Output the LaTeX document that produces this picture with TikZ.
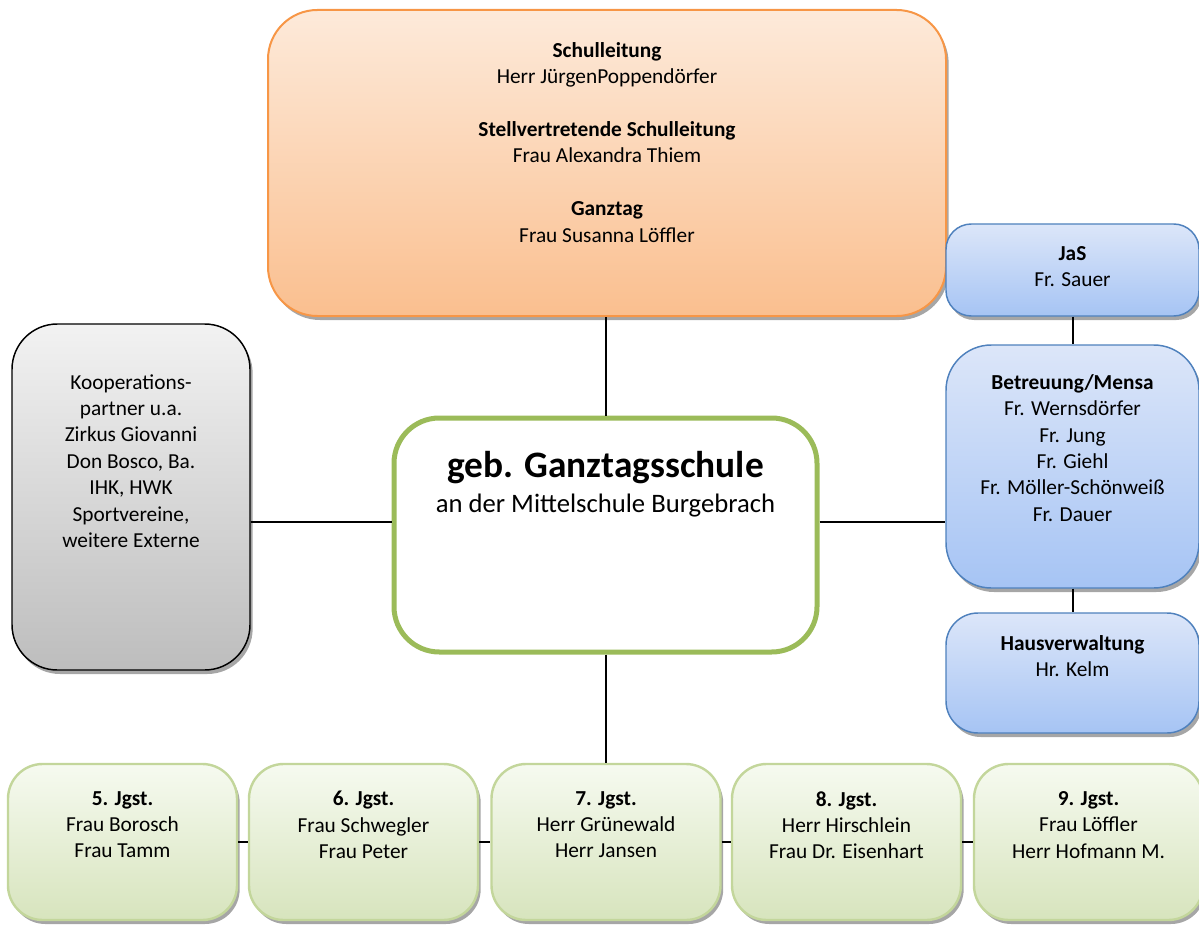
\documentclass[tikz,border=0pt]{standalone}
\usepackage{fontspec}
\setmainfont{Carlito}
\usetikzlibrary{shadows,calc}
\definecolor{orTop}{HTML}{FDEADA}
\definecolor{orBot}{HTML}{FABF8F}
\definecolor{orLine}{HTML}{F79646}
\definecolor{blTop}{HTML}{DCE6F9}
\definecolor{blBot}{HTML}{A6C4F4}
\definecolor{blLine}{HTML}{4F81BD}
\definecolor{grTop}{HTML}{F2F2F2}
\definecolor{grBot}{HTML}{BDBDBD}
\definecolor{gnTop}{HTML}{F6FAF0}
\definecolor{gnBot}{HTML}{D7E4BD}
\definecolor{gnLine}{HTML}{C3D69B}
\definecolor{gnMain}{HTML}{9BBB59}
\begin{document}
\begin{tikzpicture}[x=0.75pt,y=-0.75pt,
  shd/.style={drop shadow={shadow xshift=2pt,shadow yshift=-3pt,opacity=0.35,fill=black}},
  boxbase/.style={draw,rectangle,inner sep=0pt,shd},
  obox/.style={boxbase,rounded corners=37pt,draw=orLine,line width=1.5pt,top color=orTop,bottom color=orBot},
  bbox/.style={boxbase,rounded corners=#1,draw=blLine,line width=1.1pt,top color=blTop,bottom color=blBot},
  gbox/.style={boxbase,rounded corners=34pt,draw=black,line width=1.1pt,top color=grTop,bottom color=grBot},
  jbox/.style={boxbase,rounded corners=26pt,draw=gnLine,line width=1.8pt,top color=gnTop,bottom color=gnBot,
     minimum width=171.75pt,minimum height=117pt},
  mbox/.style={draw=gnMain,line width=3.75pt,rectangle,rounded corners=34pt,fill=white,inner sep=0pt},
  txt/.style={align=center,inner sep=0pt,anchor=north,font=\fontsize{16}{19.8}\selectfont},
  conn/.style={draw=black,line width=1.5pt}
]
\useasboundingbox (0,0) rectangle (1199,927);

% boxes
\node[obox,minimum width=508.5pt,minimum height=229.5pt] (lead) at (607,163) {};
\node[gbox,minimum width=178.5pt,minimum height=259.5pt] (koop) at (131,497) {};
\node[bbox=19pt,minimum width=189.75pt,minimum height=69pt] (jas) at (1072.5,270) {};
\node[bbox=34pt,minimum width=189.75pt,minimum height=182.25pt] (care) at (1072.5,466.5) {};
\node[bbox=24pt,minimum width=189.75pt,minimum height=90pt] (haus) at (1072.5,673) {};
\node[mbox,minimum width=317.25pt,minimum height=175.5pt] (main) at (605.5,535) {};
\node[jbox] (j5) at (122.5,842) {};
\node[jbox] (j6) at (363.5,842) {};
\node[jbox] (j7) at (606,842) {};
\node[jbox] (j8) at (846.5,842) {};
\node[jbox] (j9) at (1088.5,842) {};

% connectors
\coordinate (hy) at (0,522);
\draw[conn] (main.north |- lead.south) -- (main.north);
\draw[conn] (main.south) -- (main.south |- j7.north);
\draw[conn] (koop.east |- hy) -- (main.west |- hy);
\draw[conn] (main.east |- hy) -- (care.west |- hy);
\draw[conn] (jas.south) -- (care.north);
\draw[conn] (care.south) -- (haus.north);
\draw[conn] (j5.east) -- (j6.west);
\draw[conn] (j6.east) -- (j7.west);
\draw[conn] (j7.east) -- (j8.west);
\draw[conn] (j8.east) -- (j9.west);

% texts
\node[txt] (tlead) at (607,42) {\textbf{Schulleitung}\\Herr JürgenPoppendörfer\\\mbox{}\\\textbf{Stellvertretende Schulleitung}\\Frau Alexandra Thiem\\\mbox{}\\\textbf{Ganztag}\\Frau Susanna Löffler};
\node[txt] (tkoop) at (131,374) {Kooperations-\\partner u.a.\\Zirkus Giovanni\\Don Bosco, Ba.\\IHK, HWK\\Sportvereine,\\weitere Externe};
\node[txt] (tjas) at (1072.5,246) {\textbf{JaS}\\Fr. Sauer};
\node[txt] (tcare) at (1072.5,374) {\textbf{Betreuung/Mensa}\\Fr. Wernsdörfer\\Fr. Jung\\Fr. Giehl\\Fr. Möller-Schönweiß\\Fr. Dauer};
\node[txt] (thaus) at (1072.5,635) {\textbf{Hausverwaltung}\\Hr. Kelm};
\node[inner sep=0pt,anchor=base,font=\fontsize{28}{32}\selectfont\bfseries] (tmain) at (605.5,477) {geb. Ganztagsschule};
\node[inner sep=0pt,anchor=base,font=\fontsize{20}{24}\selectfont] (tmain2) at (605.5,512) {an der Mittelschule Burgebrach};
\node[txt] (t5) at (122.5,791) {\textbf{5. Jgst.}\\Frau Borosch\\Frau Tamm};
\node[txt] (t6) at (363.5,791) {\textbf{6. Jgst.}\\Frau Schwegler\\Frau Peter};
\node[txt] (t7) at (606,791) {\textbf{7. Jgst.}\\Herr Grünewald\\Herr Jansen};
\node[txt] (t8) at (846.5,791) {\textbf{8. Jgst.}\\Herr Hirschlein\\Frau Dr. Eisenhart};
\node[txt] (t9) at (1088.5,791) {\textbf{9. Jgst.}\\Frau Löffler\\Herr Hofmann M.};
\end{tikzpicture}
\end{document}
